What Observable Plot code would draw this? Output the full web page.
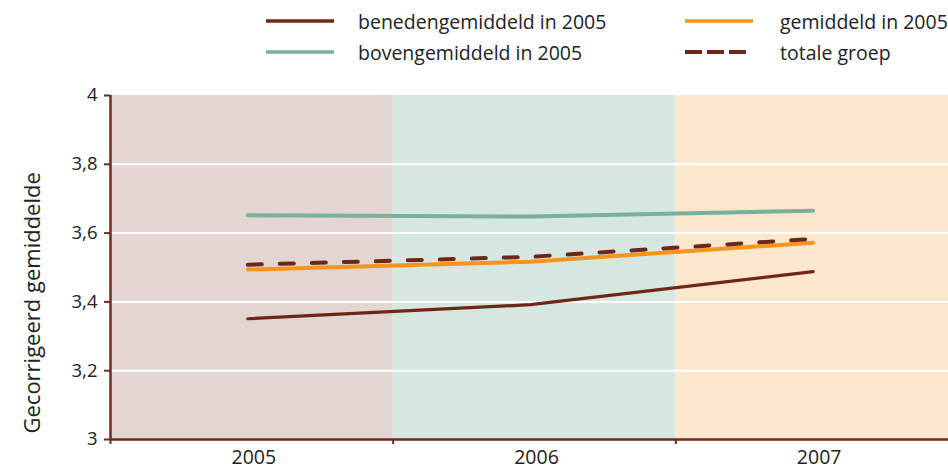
<!DOCTYPE html>
<html>
<head>
<meta charset="utf-8">
<script src="https://cdn.jsdelivr.net/npm/d3@7"></script>
<script src="https://cdn.jsdelivr.net/npm/@observablehq/plot@0.6"></script>
<style>
  html, body { margin: 0; padding: 0; background: #fff; overflow: hidden; }
  #wrap { width: 948px; height: 469px; position: relative; overflow: hidden; }
  svg { display: block; }
</style>
</head>
<body>
<div id="wrap"></div>
<script>
// ---- data ----
const years = [2005, 2006, 2007];
const beneden = [3.351, 3.392, 3.488];
const boven = [3.652, 3.648, 3.665];
const gemiddeld = [3.494, 3.517, 3.572];
const totaal = [3.508, 3.531, 3.583];
const seriesNames = ["benedengemiddeld in 2005", "bovengemiddeld in 2005", "gemiddeld in 2005", "totale groep"];
const yTicks = [3, 3.2, 3.4, 3.6, 3.8, 4];
const bandStarts = [2004.5, 2005.5, 2006.5];
const bandEnds = [2005.5, 2006.5, 2007.5];
const bandColors = ["#e2d5d2", "#d6e7e1", "#fce7cd"];

const brown = "#6e2619";
const teal = "#79b19d";
const orange = "#f7941d";
const axisBrown = "#6e2a1c";
const textColor = "#222";

const bands = bandStarts.map((s, i) => ({x1: s, x2: bandEnds[i], fill: bandColors[i]}));
const toRows = (vals) => years.map((y, i) => ({year: y, value: vals[i]}));

const font = "Open Sans";
const wrap = document.getElementById("wrap");

// ---- legend ----
const legend = d3.create("svg").attr("width", 948).attr("height", 80)
  .style("font-family", font).style("font-size", "19.5px");
const items = [
  {name: seriesNames[0], color: brown, dash: null, x: 266, x2: 334, tx: 358, y: 21, w: 3.5},
  {name: seriesNames[1], color: teal, dash: null, x: 266, x2: 334, tx: 358, y: 52, w: 3.5},
  {name: seriesNames[2], color: orange, dash: null, x: 685, x2: 753, tx: 780, y: 21, w: 3.5},
  {name: seriesNames[3], color: brown, dash: "17,5", x: 685, x2: 746, tx: 780, y: 52, w: 4}
];
for (const it of items) {
  legend.append("line").attr("x1", it.x).attr("x2", it.x2).attr("y1", it.y).attr("y2", it.y)
    .attr("stroke", it.color).attr("stroke-width", it.w).attr("stroke-dasharray", it.dash);
  legend.append("text").attr("x", it.tx).attr("y", it.y + 7.5).attr("fill", textColor).text(it.name);
}
wrap.appendChild(legend.node());

// ---- chart ----
const chart = Plot.plot({
  width: 948,
  height: 389,
  marginLeft: 110,
  marginRight: -10,
  marginTop: 15,
  marginBottom: 30,
  style: {fontFamily: font, fontSize: "19px", color: textColor, background: "transparent", overflow: "visible"},
  x: {type: "linear", domain: [2004.5, 2007.5], axis: null},
  y: {domain: [3, 4], axis: null},
  marks: [
    Plot.rect(bands, {x1: "x1", x2: "x2", y1: 3, y2: 4, fill: "fill"}),
    Plot.ruleY(yTicks.filter(d => d > 3 && d < 4), {stroke: "white", strokeWidth: 2}),
    Plot.line(toRows(boven), {x: "year", y: "value", stroke: teal, strokeWidth: 4, dx: -4}),
    Plot.line(toRows(gemiddeld), {x: "year", y: "value", stroke: orange, strokeWidth: 4, dx: -4}),
    Plot.line(toRows(totaal), {x: "year", y: "value", stroke: brown, strokeWidth: 4, strokeDasharray: "14,18", dx: -4}),
    Plot.line(toRows(beneden), {x: "year", y: "value", stroke: brown, strokeWidth: 3.2, dx: -4}),
    Plot.ruleY([3], {stroke: axisBrown, strokeWidth: 2.5}),
    Plot.ruleX([2004.5], {stroke: axisBrown, strokeWidth: 2.5}),
    Plot.axisY({ticks: yTicks, tickSize: 6, tickPadding: 7, stroke: axisBrown, strokeWidth: 2,
      fill: textColor, fontSize: 18.5, label: null,
      tickFormat: d => String(d).replace(".", ",")}),
    Plot.axisX({ticks: bandStarts.concat(bandEnds.slice(-1)), tickSize: 5, stroke: axisBrown, strokeWidth: 2,
      tickFormat: () => "", label: null}),
    Plot.axisX({ticks: years, tickSize: 0, tickPadding: 11, fill: textColor, fontSize: 19.5,
      tickFormat: d => String(d), label: null, dx: 2}),
    Plot.text(["Gecorrigeerd gemiddelde"], {frameAnchor: "bottom-left", rotate: -90, textAnchor: "start",
      lineAnchor: "middle", dx: -78, dy: -6, fontSize: 22, fill: textColor})
  ]
});
wrap.appendChild(chart);
</script>
</body>
</html>
